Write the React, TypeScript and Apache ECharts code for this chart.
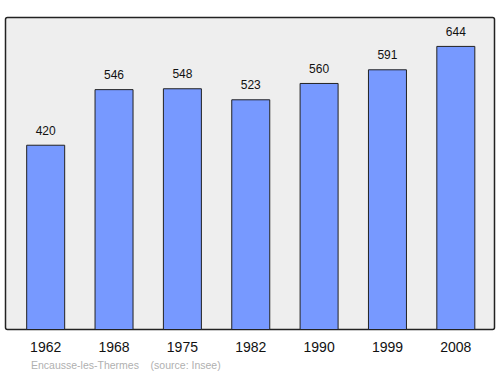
import React, { useEffect, useRef } from "react";
import * as echarts from "echarts";

const years = ["1962", "1968", "1975", "1982", "1990", "1999", "2008"];
const population = [420, 546, 548, 523, 560, 591, 644];
const footer = "Encausse-les-Thermes    (source: Insee)";

export default function App() {
  const ref = useRef<HTMLDivElement>(null);
  useEffect(() => {
    const chart = echarts.init(ref.current!, null, { renderer: "svg" });
    chart.setOption({
      animation: false,
      backgroundColor: "#ffffff",
      graphic: [
        {
          type: "rect",
          z: -10,
          shape: { x: 5.5, y: 17.5, width: 489, height: 312, r: 2 },
          style: { fill: "#eeeeee", stroke: "#222222", lineWidth: 1.5 },
        },
        {
          type: "text",
          left: 31,
          top: 359,
          style: {
            text: footer,
            fill: "#b0b0b0",
            font: "10.5px 'Liberation Sans', Arial, sans-serif",
          },
        },
      ],
      grid: { left: 11.5, right: 10, top: 17.5, bottom: 44, containLabel: false },
      xAxis: {
        type: "category",
        data: years,
        axisLine: { show: false },
        axisTick: { show: false },
        axisLabel: {
          color: "#111",
          fontSize: 14,
          margin: 10,
          fontFamily: "'Liberation Sans', Arial, sans-serif",
        },
      },
      yAxis: {
        type: "value",
        min: 0,
        max: 708.4,
        show: false,
        splitLine: { show: false },
      },
      series: [
        {
          type: "bar",
          data: population,
          barWidth: 39,
          itemStyle: { color: "#7799ff", borderColor: "#222222", borderWidth: 1 },
          label: {
            show: true,
            position: "top",
            distance: 8,
            color: "#111",
            fontSize: 12,
            fontFamily: "'Liberation Sans', Arial, sans-serif",
          },
        },
      ],
    });
    return () => chart.dispose();
  }, []);
  return <div ref={ref} style={{ width: 500, height: 374, position: "absolute", left: 0, top: 0 }} />;
}
